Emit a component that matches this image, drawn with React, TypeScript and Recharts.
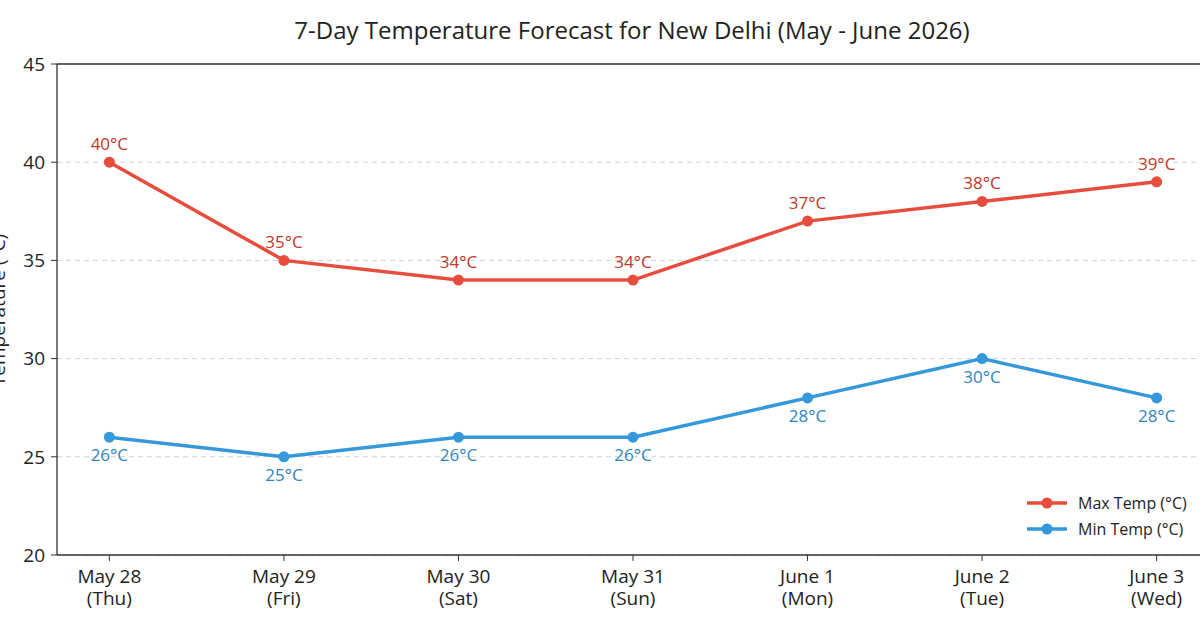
import React from 'react';
import { LineChart, Line, XAxis, YAxis, CartesianGrid, ReferenceLine, LabelList } from 'recharts';

const days = ['May 28', 'May 29', 'May 30', 'May 31', 'June 1', 'June 2', 'June 3'];
const weekdays = ['(Thu)', '(Fri)', '(Sat)', '(Sun)', '(Mon)', '(Tue)', '(Wed)'];
const maxTemps = [40, 35, 34, 34, 37, 38, 39];
const minTemps = [26, 25, 26, 26, 28, 30, 28];
const yTicks = [20, 25, 30, 35, 40, 45];
const seriesNames = ['Max Temp (°C)', 'Min Temp (°C)'];

const data = days.map((d, i) => ({ idx: i, day: d, wd: weekdays[i], max: maxTemps[i], min: minTemps[i] }));

const FONT = '"Open Sans", sans-serif';
const RED = '#E74C3C';
const RED_TXT = '#C0392B';
const BLUE = '#3498DB';
const BLUE_TXT = '#2E86C1';
const seriesColors = [RED, BLUE];

const XTick = (props: any) => {
  const { x, y, payload } = props;
  const i = payload.value as number;
  return (
    <g>
      <text x={x} y={y + 20} textAnchor="middle" fill="#222" fontSize={19} fontFamily={FONT}>
        {days[i]}
      </text>
      <text x={x} y={y + 42} textAnchor="middle" fill="#222" fontSize={19} fontFamily={FONT}>
        {weekdays[i]}
      </text>
    </g>
  );
};

const makeLabel = (color: string, dy: number) => (props: any) => {
  const { x, y, value } = props;
  return (
    <text x={x} y={y + dy} textAnchor="middle" fill={color} fontSize={17} fontFamily={FONT}>
      {`${value}°C`}
    </text>
  );
};

export default function App() {
  return (
    <div style={{ position: 'fixed', left: 0, top: 0, width: 1200, height: 628, overflow: 'hidden', background: '#fff' }}>
      <div style={{ position: 'absolute', left: 0, top: 13, width: 1264, textAlign: 'center', fontFamily: FONT, fontSize: 24, color: '#222' }}>
        7-Day Temperature Forecast for New Delhi (May - June 2026)
      </div>
      <LineChart width={1220} height={628} data={data} margin={{ top: 64, right: 11, bottom: 13, left: 0 }}>
        <CartesianGrid horizontal vertical={false} stroke="#d0d0d0" strokeDasharray="5 4" />
        <XAxis
          dataKey="idx"
          type="number"
          domain={[-0.3, 6.3]}
          ticks={[0, 1, 2, 3, 4, 5, 6]}
          tick={<XTick />}
          tickSize={6}
          height={60}
          axisLine={{ stroke: '#333', strokeWidth: 1.3 }}
          tickLine={{ stroke: '#333' }}
          interval={0}
        />
        <YAxis
          domain={[20, 45]}
          ticks={yTicks}
          width={57}
          tickSize={6}
          tickMargin={6}
          axisLine={{ stroke: '#333', strokeWidth: 1.3 }}
          tickLine={{ stroke: '#333' }}
          tick={{ fill: '#222', fontSize: 19, fontFamily: FONT }}
          label={(p: any) => (
            <text x={5} y={310} transform="rotate(-90 5 310)" textAnchor="middle" fill="#222" fontSize={19} fontFamily={FONT}>
              Temperature (°C)
            </text>
          )}
        />
        <ReferenceLine y={45} stroke="#333" strokeWidth={1.3} />
        <Line
          type="linear"
          dataKey="max"
          name={seriesNames[0]}
          stroke={RED}
          strokeWidth={3.5}
          dot={{ r: 5.5, fill: RED, stroke: RED, strokeWidth: 0 }}
          activeDot={false}
          isAnimationActive={false}
        >
          <LabelList dataKey="max" content={makeLabel(RED_TXT, -12)} />
        </Line>
        <Line
          type="linear"
          dataKey="min"
          name={seriesNames[1]}
          stroke={BLUE}
          strokeWidth={3.5}
          dot={{ r: 5.5, fill: BLUE, stroke: BLUE, strokeWidth: 0 }}
          activeDot={false}
          isAnimationActive={false}
        >
          <LabelList dataKey="min" content={makeLabel(BLUE_TXT, 24)} />
        </Line>
      </LineChart>
      <div style={{ position: 'absolute', left: 1026, top: 490, fontFamily: FONT, fontSize: 16, color: '#222' }}>
        {seriesNames.map((n, i) => (
          <div key={i} style={{ display: 'flex', alignItems: 'center', height: 26 }}>
            <svg width={42} height={12} style={{ marginRight: 10 }}>
              <line x1={1} y1={6} x2={41} y2={6} stroke={seriesColors[i]} strokeWidth={3.5} />
              <circle cx={21} cy={6} r={5.5} fill={seriesColors[i]} />
            </svg>
            <span style={{ whiteSpace: 'nowrap' }}>{n}</span>
          </div>
        ))}
      </div>
    </div>
  );
}
